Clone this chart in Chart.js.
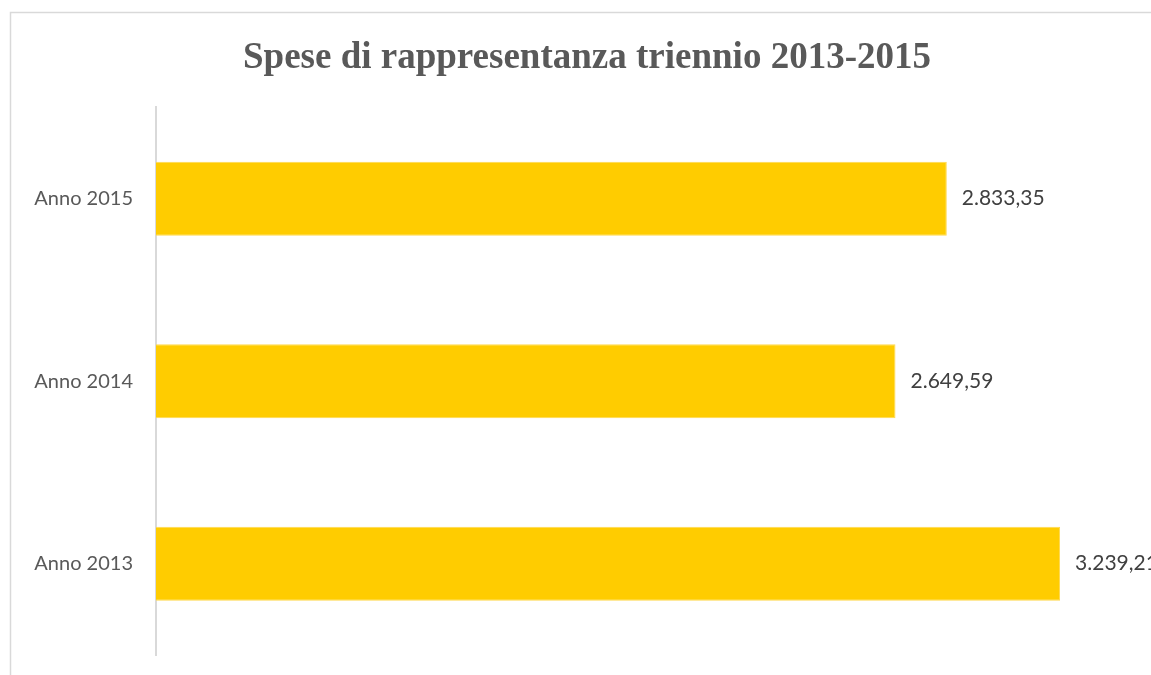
<!DOCTYPE html>
<html lang="it">
<head>
  <meta charset="UTF-8">
  <title>Spese di rappresentanza triennio 2013-2015</title>
  <script src="https://cdn.jsdelivr.net/npm/chart.js"></script>
  <style>
    body { margin: 0; background: white; overflow: hidden; }
    #wrap { position: absolute; left: 0; top: 0; width: 1151px; height: 675px; }
  </style>
</head>
<body>
<div id="wrap"><canvas id="chart" width="1151" height="675"></canvas></div>

<script>
const categories = ["Anno 2015", "Anno 2014", "Anno 2013"];
const spese = [2833.35, 2649.59, 3239.21];
const titleText = "Spese di rappresentanza triennio 2013-2015";

// formato italiano: 2.833,35
function formatIt(v) {
  let parts = v.toFixed(2).split(".");
  let intPart = parts[0].replace(/\B(?=(\d{3})+(?!\d))/g, ".");
  return intPart + "," + parts[1];
}

const frameBox = {
  id: "frameBox",
  beforeDraw(chart) {
    const c = chart.ctx;
    c.save();
    c.fillStyle = "white";
    c.fillRect(0, 0, chart.width, chart.height);
    c.strokeStyle = "#d9d9d9";
    c.lineWidth = 1.5;
    c.beginPath();
    c.moveTo(10.5, chart.height + 2);
    c.lineTo(10.5, 12.5);
    c.lineTo(chart.width + 2, 12.5);
    c.stroke();
    c.restore();
  }
};

const valueLabels = {
  id: "valueLabels",
  afterDatasetsDraw(chart) {
    const c = chart.ctx;
    const meta = chart.getDatasetMeta(0);
    c.save();
    c.font = "21px Lato";
    c.fillStyle = "#404040";
    c.textAlign = "left";
    c.textBaseline = "middle";
    meta.data.forEach((bar, i) => {
      c.fillText(formatIt(spese[i]), bar.x + 15, bar.y);
    });
    c.restore();
  }
};

new Chart(document.getElementById("chart"), {
  type: "bar",
  data: {
    labels: categories,
    datasets: [{
      data: spese,
      backgroundColor: "#ffcc00",
      borderColor: "#ffd94d",
      borderWidth: 1,
      barPercentage: 0.405,
      categoryPercentage: 1
    }]
  },
  options: {
    indexAxis: "y",
    responsive: false,
    animation: false,
    layout: { padding: { left: 23, right: 0, top: 0, bottom: 20 } },
    plugins: {
      legend: { display: false },
      tooltip: { enabled: false },
      title: {
        display: true,
        text: titleText,
        color: "#595959",
        font: { family: "Liberation Serif", size: 37, weight: "bold", lineHeight: 1.2 },
        padding: { top: 36, bottom: 27 }
      }
    },
    scales: {
      x: {
        display: false,
        min: 0,
        max: 3565
      },
      y: {
        afterFit(scale) {
          scale.width = 133;
          scale.paddingTop = 0;
          scale.paddingBottom = 0;
        },
        grid: { display: false, drawTicks: false },
        border: { display: true, color: "#d9d9d9", width: 2 },
        ticks: {
          color: "#595959",
          font: { family: "Lato", size: 20 },
          padding: 23
        }
      }
    }
  },
  plugins: [frameBox, valueLabels]
});
</script>
</body>
</html>
